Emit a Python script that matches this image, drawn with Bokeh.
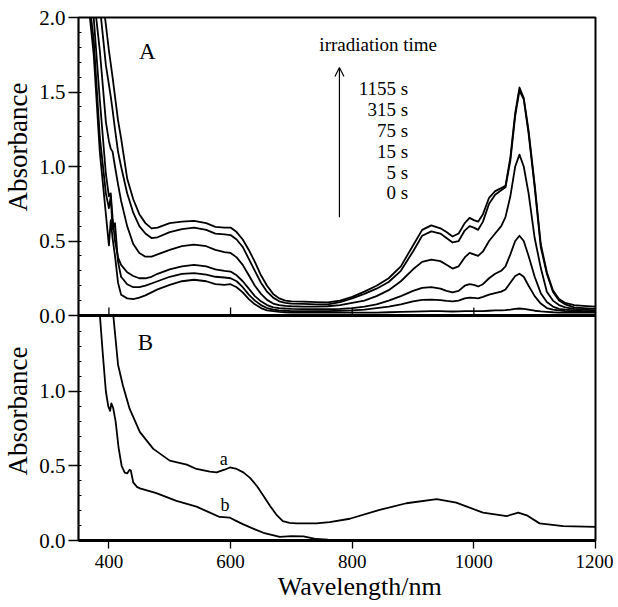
from bokeh.plotting import figure
from bokeh.models import Range1d, FixedTicker, Label, Arrow, OpenHead, Span
from bokeh.embed import file_html
from bokeh.resources import INLINE

FONT = "Liberation Serif"

# ---------------- data ----------------
wavelength_a = [355, 365, 375, 385, 395, 400, 403, 406, 410, 415,
                420, 430, 440, 450, 460, 470, 480, 500, 520, 540,
                560, 575, 590, 600, 610, 620, 630, 640, 650, 660,
                670, 680, 690, 700, 720, 740, 760, 780, 800, 820,
                840, 860, 880, 900, 915, 930, 945, 955, 965, 975,
                985, 993, 1000, 1007, 1015, 1025, 1035, 1045, 1052, 1060,
                1068, 1075, 1082, 1090, 1100, 1110, 1120, 1130, 1140, 1150,
                1165, 1180, 1200]

abs_1155s = [3.2, 2.9, 2.6, 2.3, 1.95, 1.78, 1.69, 1.6, 1.47, 1.31,
             1.19, 0.92, 0.78, 0.68, 0.62, 0.585, 0.59, 0.62, 0.63, 0.635,
             0.62, 0.595, 0.59, 0.59, 0.56, 0.51, 0.44, 0.36, 0.27, 0.2,
             0.145, 0.115, 0.1, 0.095, 0.093, 0.09, 0.088, 0.1, 0.125, 0.16,
             0.2, 0.25, 0.33, 0.47, 0.575, 0.605, 0.585, 0.56, 0.53, 0.55,
             0.62, 0.655, 0.64, 0.63, 0.68, 0.79, 0.835, 0.855, 0.87, 1.06,
             1.36, 1.53, 1.46, 1.24, 0.88, 0.48, 0.29, 0.17, 0.11, 0.085,
             0.07, 0.065, 0.06]

abs_315s = [2.9, 2.6, 2.3, 2.08, 1.68, 1.55, 1.47, 1.38, 1.25, 1.10,
            1.0, 0.82, 0.69, 0.6, 0.55, 0.52, 0.525, 0.56, 0.58, 0.59,
            0.575, 0.55, 0.545, 0.54, 0.51, 0.46, 0.38, 0.30, 0.22, 0.16,
            0.12, 0.095, 0.085, 0.08, 0.078, 0.075, 0.075, 0.09, 0.115, 0.145,
            0.18, 0.225, 0.3, 0.43, 0.535, 0.565, 0.55, 0.52, 0.49, 0.5,
            0.57, 0.6, 0.59, 0.575, 0.63, 0.75, 0.81, 0.84, 0.86, 1.04,
            1.34, 1.51, 1.45, 1.22, 0.86, 0.46, 0.28, 0.16, 0.1, 0.075,
            0.055, 0.05, 0.045]

abs_75s = [2.75, 2.45, 2.15, 1.78, 1.3, 1.17, 1.12, 1.1, 1.0, 0.88,
           0.77, 0.6, 0.48, 0.42, 0.395, 0.395, 0.41, 0.44, 0.465, 0.475,
           0.465, 0.44, 0.425, 0.42, 0.39, 0.34, 0.27, 0.2, 0.145, 0.105,
           0.08, 0.07, 0.065, 0.062, 0.06, 0.06, 0.062, 0.07, 0.085, 0.1,
           0.13, 0.17, 0.23, 0.31, 0.36, 0.375, 0.365, 0.34, 0.315, 0.33,
           0.39, 0.42, 0.41, 0.40, 0.43, 0.5, 0.55, 0.6, 0.66, 0.8,
           1.0, 1.08, 1.0, 0.82, 0.52, 0.32, 0.16, 0.1, 0.07, 0.055,
           0.045, 0.04, 0.035]

abs_15s = [2.6, 2.3, 2.0, 1.45, 0.95, 0.8, 0.82, 0.66, 0.5, 0.39,
           0.34, 0.29, 0.265, 0.25, 0.25, 0.26, 0.28, 0.31, 0.33, 0.34,
           0.33, 0.31, 0.30, 0.295, 0.27, 0.23, 0.18, 0.13, 0.095, 0.07,
           0.055, 0.05, 0.047, 0.045, 0.043, 0.042, 0.042, 0.045, 0.05, 0.06,
           0.075, 0.1, 0.13, 0.165, 0.185, 0.19, 0.18, 0.165, 0.155, 0.165,
           0.2, 0.21, 0.205, 0.195, 0.21, 0.25, 0.28, 0.3, 0.33, 0.41,
           0.5, 0.535, 0.5, 0.4, 0.26, 0.15, 0.09, 0.06, 0.045, 0.04,
           0.035, 0.03, 0.03]

abs_5s = [2.5, 2.2, 1.85, 1.2, 0.82, 0.72, 0.8, 0.58, 0.62, 0.36,
          0.26, 0.21, 0.19, 0.19, 0.2, 0.215, 0.23, 0.26, 0.28, 0.285,
          0.275, 0.26, 0.255, 0.25, 0.23, 0.19, 0.14, 0.1, 0.07, 0.05,
          0.04, 0.035, 0.032, 0.03, 0.03, 0.03, 0.03, 0.032, 0.035, 0.04,
          0.05, 0.06, 0.075, 0.095, 0.105, 0.107, 0.103, 0.098, 0.095, 0.1,
          0.115, 0.12, 0.118, 0.115, 0.125, 0.14, 0.15, 0.16, 0.175, 0.22,
          0.265, 0.28, 0.26, 0.2, 0.13, 0.08, 0.05, 0.04, 0.035, 0.03,
          0.028, 0.025, 0.025]

abs_0s = [2.45, 2.15, 1.75, 1.1, 0.68, 0.47, 0.64, 0.52, 0.4, 0.22,
          0.14, 0.115, 0.11, 0.12, 0.135, 0.155, 0.175, 0.205, 0.23, 0.24,
          0.23, 0.21, 0.205, 0.21, 0.19, 0.155, 0.11, 0.075, 0.05, 0.035,
          0.03, 0.025, 0.022, 0.02, 0.02, 0.02, 0.02, 0.02, 0.02, 0.02,
          0.02, 0.022, 0.024, 0.026, 0.028, 0.03, 0.03, 0.028, 0.027, 0.028,
          0.03, 0.03, 0.03, 0.03, 0.03, 0.032, 0.034, 0.035, 0.036, 0.04,
          0.045, 0.047, 0.045, 0.04, 0.032, 0.028, 0.025, 0.022, 0.02, 0.02,
          0.02, 0.02, 0.02]

series_a = [abs_0s, abs_5s, abs_15s, abs_75s, abs_315s, abs_1155s]
time_labels = ["1155 s", "315 s", "75 s", "15 s", "5 s", "0 s"]

wavelength_b_a = [407, 415, 423, 434, 451, 473, 500, 528, 544, 566,
                  577, 590, 599, 610, 621, 632, 643, 654, 665, 676,
                  686, 697, 708, 741, 763, 796, 845, 889, 939, 971,
                  1015, 1054, 1073, 1087, 1108, 1147, 1200]
abs_b_a = [1.52, 1.18, 1.04, 0.885, 0.727, 0.615, 0.536, 0.509, 0.48, 0.462,
           0.457, 0.475, 0.49, 0.48, 0.457, 0.42, 0.367, 0.30, 0.232, 0.17,
           0.13, 0.118, 0.115, 0.115, 0.124, 0.146, 0.205, 0.25, 0.277, 0.254,
           0.187, 0.164, 0.187, 0.169, 0.115, 0.097, 0.092]

wavelength_b_b = [385, 390, 395, 399, 402, 404, 407, 411, 416, 421,
                  426, 430, 434, 436, 440, 446, 451, 478, 511, 544,
                  566, 582, 599, 610, 621, 640, 654, 681, 700, 720,
                  741, 760, 800, 1200]
abs_b_b = [1.52, 1.25, 1.0, 0.9, 0.87, 0.92, 0.89, 0.8, 0.62, 0.5,
           0.455, 0.45, 0.475, 0.47, 0.39, 0.36, 0.35, 0.318, 0.266, 0.227,
           0.187, 0.158, 0.153, 0.13, 0.108, 0.075, 0.052, 0.025, 0.03, 0.028,
           0.01, 0.005, 0.003, 0.003]

x_ticks = [400, 600, 800, 1000, 1200]
y_ticks_a = [0.0, 0.5, 1.0, 1.5, 2.0]
y_ticks_b = [0.0, 0.5, 1.0]

# ---------------- layout of the two stacked panels ----------------
PX_PER_UNIT = 149.0          # both panels share the same absorbance scale
B_TOP = 1.51                 # top of panel B (= A's 0.0 line), absorbance units
A_TOP = 2.0
TOTAL = B_TOP + A_TOP
FRAME_H = int(round(TOTAL * PX_PER_UNIT))

p = figure(frame_width=517, frame_height=FRAME_H,
           x_range=Range1d(350, 1200), y_range=Range1d(0, TOTAL),
           output_backend="svg", toolbar_location=None,
           min_border_left=74, min_border_right=18,
           min_border_top=17, min_border_bottom=10)
p.extra_y_ranges = {"A": Range1d(-B_TOP, A_TOP)}
p.grid.visible = False
p.outline_line_color = "black"
p.outline_line_width = 2
p.background_fill_color = "white"
p.border_fill_color = "white"

# ---- x axis (bottom of panel B)
xa = p.xaxis[0]
xa.ticker = FixedTicker(ticks=x_ticks)
xa.major_tick_in = 0
xa.major_tick_out = 8
xa.minor_tick_line_color = None
xa.axis_line_width = 3
xa.major_tick_line_width = 1.3
xa.major_label_text_font = FONT
xa.major_label_text_font_size = "19px"
xa.major_label_text_color = "black"
xa.major_label_standoff = 6
xa.axis_label = "\u00a0" * 7 + "Wavelength/nm"
xa.axis_label_text_font = FONT
xa.axis_label_text_font_size = "26px"
xa.axis_label_text_font_style = "normal"
xa.axis_label_text_color = "black"
xa.axis_label_standoff = 1

# ---- y axis: panel B ticks at the bottom, panel A ticks above B_TOP
major_pos = [t for t in y_ticks_b] + [round(B_TOP + t, 3) for t in y_ticks_a]
major_txt = ["%.1f" % t for t in y_ticks_b] + ["%.1f" % t for t in y_ticks_a]
minor_pos = [round(0.1 * i, 3) for i in range(16)] + \
            [round(B_TOP + 0.1 * i, 3) for i in range(21)]
ya = p.yaxis[0]
ya.ticker = FixedTicker(ticks=major_pos, minor_ticks=minor_pos)
ya.major_label_overrides = {pos: txt for pos, txt in zip(major_pos, major_txt)}
ya.major_tick_out = 10
ya.major_tick_in = 0
ya.minor_tick_in = 3
ya.minor_tick_out = 0
ya.axis_line_width = 1.3
ya.major_tick_line_width = 1.3
ya.major_label_text_font = FONT
ya.major_label_text_font_size = "21px"
ya.major_label_text_color = "black"
ya.major_label_standoff = 3
ya.axis_label = "Absorbance" + "\u00a0" * 20 + "Absorbance"
ya.axis_label_text_font = FONT
ya.axis_label_text_font_size = "27px"
ya.axis_label_text_font_style = "normal"
ya.axis_label_text_color = "black"
ya.axis_label_standoff = 3

# ---- boundary between the panels (A = 0) with its inward ticks
p.add_layout(Span(location=0, dimension="width", y_range_name="A",
                  line_color="black", line_width=3))
tick_len = 8.0 / PX_PER_UNIT
p.segment(x0=x_ticks, y0=[0] * len(x_ticks), x1=x_ticks,
          y1=[tick_len] * len(x_ticks), y_range_name="A",
          line_color="black", line_width=1.3)

# ---- curves
for ys in series_a:
    p.line(wavelength_a, ys, y_range_name="A", line_color="black",
           line_width=1.8, line_join="round")
p.line(wavelength_b_a, abs_b_a, line_color="black", line_width=1.8, line_join="round")
p.line(wavelength_b_b, abs_b_b, line_color="black", line_width=1.8, line_join="round")


# ---------------- texts ----------------
def lab(x, y, text, size, align="center", rng="default"):
    p.add_layout(Label(x=x, y=y, text=text, text_font=FONT,
                       text_font_size=size, text_align=align,
                       text_baseline="middle", text_color="black",
                       y_range_name=rng))


lab(463, 1.77, "A", "23px", rng="A")
lab(746, 1.82, "irradiation time", "19px", align="left", rng="A")
row_y = [1.525, 1.385, 1.244, 1.104, 0.963, 0.823]
for t, yy in zip(time_labels, row_y):
    lab(892, yy, t, "19px", align="right", rng="A")
p.add_layout(Arrow(end=OpenHead(size=9, line_width=1.2, line_color="black"),
                   x_start=779, y_start=0.66, x_end=779, y_end=1.665,
                   y_range_name="A", line_width=1.2, line_color="black"))

lab(460, 1.33, "B", "23px")
lab(589, 0.55, "a", "18px")
lab(591, 0.235, "b", "18px")

open("out.html", "w").write(file_html(p, INLINE))
